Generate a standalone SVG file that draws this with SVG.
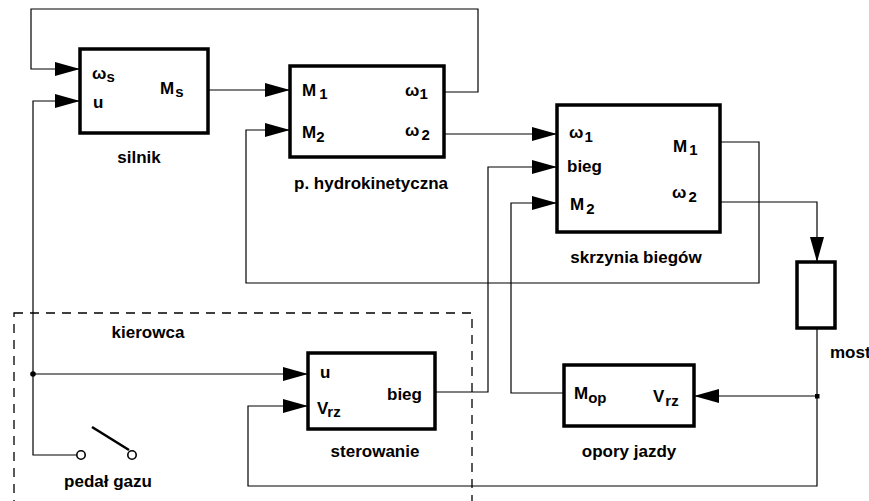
<svg xmlns="http://www.w3.org/2000/svg" width="869" height="501" viewBox="0 0 869 501">
<style>
.box{fill:#fff;stroke:#000;stroke-width:3.5}
.ln{fill:none;stroke:#000;stroke-width:1.2}
.t{font-family:"Liberation Sans",Arial,sans-serif;font-weight:bold;font-size:17px;fill:#000}
.p{font-family:"Liberation Sans",Arial,sans-serif;font-weight:bold;font-size:17px;fill:#000}
.s{font-family:"Liberation Sans",Arial,sans-serif;font-weight:bold;font-size:15px;fill:#000}
.c{text-anchor:middle}
</style>
<defs>
<marker id="ar" markerUnits="userSpaceOnUse" markerWidth="26" markerHeight="16" refX="25" refY="7.5" orient="auto">
<path d="M0,0.5 L25,7.5 L0,14.5 z" fill="#000"/>
</marker>
</defs>
<rect width="869" height="501" fill="#fff"/>

<g id="kierowca">
<rect x="14" y="313" width="458" height="200" fill="none" stroke="#000" stroke-width="1.3" stroke-dasharray="9,7"/>
<text class="t c" x="148" y="338">kierowca</text>
</g>

<g id="connectors">
<path class="ln" d="M444,92 H478 V9 H31 V69 H80" marker-end="url(#ar)"/>
<path class="ln" d="M76,455 H33 V101 H80" marker-end="url(#ar)"/>
<path class="ln" d="M33,374 H308" marker-end="url(#ar)"/>
<path class="ln" d="M208,90 H290" marker-end="url(#ar)"/>
<path class="ln" d="M720,142 H759 V283 H246 V130 H290" marker-end="url(#ar)"/>
<path class="ln" d="M444,134 H557" marker-end="url(#ar)"/>
<path class="ln" d="M435,392 H488 V167 H557" marker-end="url(#ar)"/>
<path class="ln" d="M564,393 H511 V203 H557" marker-end="url(#ar)"/>
<path class="ln" d="M720,202 H817 V262" marker-end="url(#ar)"/>
<path class="ln" d="M817,328 V486 H248 V406 H308" marker-end="url(#ar)"/>
<path class="ln" d="M817,396 H694" marker-end="url(#ar)"/>
<circle cx="33" cy="374" r="2.8" fill="#000"/>
<rect x="815" y="394" width="4.5" height="4.5" fill="#000"/>
</g>

<g id="silnik">
<rect class="box" x="80" y="49" width="128" height="84"/>
<text class="p" x="92" y="79">ω<tspan class="s" dy="3">s</tspan></text>
<text class="p" x="93" y="108">u</text>
<text class="p" x="160" y="94">M<tspan class="s" dx="1" dy="3">s</tspan></text>
<text class="t c" x="139" y="163">silnik</text>
</g>

<g id="hydro">
<rect class="box" x="290" y="66" width="154" height="91"/>
<text class="p" x="302" y="96">M<tspan class="s" dx="3" dy="3">1</tspan></text>
<text class="p" x="302" y="138">M<tspan class="s" dy="4">2</tspan></text>
<text class="p" x="405" y="96">ω<tspan class="s" dy="3">1</tspan></text>
<text class="p" x="405" y="136">ω<tspan class="s" dx="2" dy="4">2</tspan></text>
<text class="t c" x="371" y="189">p. hydrokinetyczna</text>
</g>

<g id="skrzynia">
<rect class="box" x="557" y="105" width="163" height="127"/>
<text class="p" x="569" y="138">ω<tspan class="s" dx="1" dy="4">1</tspan></text>
<text class="p" x="567" y="172">bieg</text>
<text class="p" x="570" y="210">M<tspan class="s" dx="2" dy="4">2</tspan></text>
<text class="p" x="673" y="152">M<tspan class="s" dx="2" dy="3">1</tspan></text>
<text class="p" x="672" y="198">ω<tspan class="s" dx="2" dy="4">2</tspan></text>
<text class="t c" x="636" y="263">skrzynia biegów</text>
</g>

<g id="most">
<rect class="box" x="797" y="262" width="38" height="66"/>
<text class="t" x="830" y="358">most</text>
</g>

<g id="sterowanie">
<rect class="box" x="308" y="353" width="127" height="76"/>
<text class="p" x="320" y="378">u</text>
<text class="p" x="317" y="414">V<tspan class="s" dx="-1" dy="3">rz</tspan></text>
<text class="p" x="387" y="400">bieg</text>
<text class="t c" x="375" y="457">sterowanie</text>
</g>

<g id="opory">
<rect class="box" x="564" y="365" width="130" height="61"/>
<text class="p" x="574" y="399">M<tspan class="s" dy="4">op</tspan></text>
<text class="p" x="653" y="402">V<tspan class="s" dx="1" dy="4">rz</tspan></text>
<text class="t c" x="629" y="457">opory jazdy</text>
</g>

<g id="pedal">
<circle cx="81" cy="455" r="4.2" fill="#fff" stroke="#000" stroke-width="1.6"/>
<circle cx="132" cy="455" r="4.2" fill="#fff" stroke="#000" stroke-width="1.6"/>
<line x1="92" y1="427" x2="129" y2="450" stroke="#000" stroke-width="2.6"/>
<text class="t c" x="108" y="487">pedał gazu</text>
</g>
</svg>
